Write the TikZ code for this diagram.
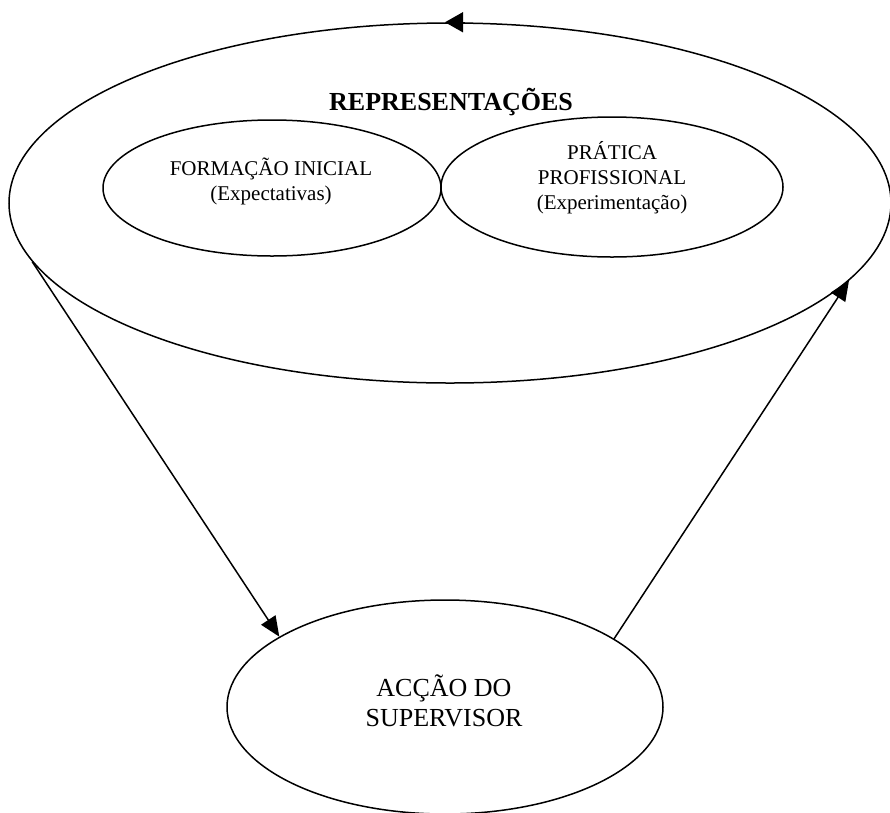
\documentclass[tikz,border=0pt]{standalone}
\usepackage{fontspec}
\setmainfont{Liberation Serif}
\usetikzlibrary{shapes.geometric,arrows.meta,calc}
\begin{document}
\begin{tikzpicture}[x=1pt,y=-1pt,
  oval/.style={draw,ellipse,line width=1.5pt,inner sep=0pt},
  txt/.style={align=center,inner sep=0pt},
  arr/.style={line width=1.5pt,-{Triangle[length=20pt,width=17pt]}},
  innertxt/.style={txt,font=\fontsize{21}{25}\selectfont},
]
\useasboundingbox (0,0) rectangle (890,812);
\node[oval,minimum width=882pt,minimum height=360pt] (big) at (450,203) {};
\node[txt,font=\bfseries\fontsize{26}{30}\selectfont,anchor=base] (title) at (451,110) {REPRESENTAÇÕES};
\node[oval,minimum width=338pt,minimum height=136pt] (form) at (272,188) {};
\node[innertxt] (formt) at (271,181) {FORMAÇÃO INICIAL\\(Expectativas)};
\node[oval,minimum width=342pt,minimum height=140pt] (prat) at (612,187) {};
\node[innertxt] (pratt) at (612,178) {PRÁTICA\\PROFISSIONAL\\(Experimentação)};
\node[oval,minimum width=436pt,minimum height=214pt] (acc) at (445,707) {};
\node[txt,font=\fontsize{26}{30}\selectfont] (acct) at (444,701) {ACÇÃO DO\\SUPERVISOR};
\draw[arr] (big.188.5) -- (acc.157.4);
\draw[arr] (acc.22.1) -- (big.349.2);
\coordinate (t1) at ($(big.north)+(15,0)$);
\coordinate (t2) at ($(big.north)+(-5,0)$);
\draw[line width=1.5pt,-{Triangle[length=18pt,width=20pt]}] (t1) -- (t2);
\end{tikzpicture}
\end{document}
